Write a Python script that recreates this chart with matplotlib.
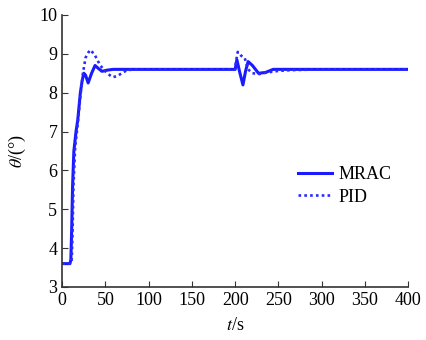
import numpy as np
import matplotlib
matplotlib.use("Agg")
from matplotlib import pyplot as plt

plt.rcParams['font.family'] = ['Liberation Serif', 'DejaVu Serif']
plt.rcParams['mathtext.fontset'] = 'stix'

# MRAC response (time s, angle deg)
mrac_t = [0, 9, 10, 11, 12, 13.5, 16, 18, 21, 23, 25, 27, 30, 34, 38, 42, 46, 52, 59, 70,
          200, 202, 205, 209, 212, 215, 220, 227, 235, 244, 255, 400]
mrac_y = [3.6, 3.6, 3.7, 4.5, 5.6, 6.5, 7.0, 7.3, 8.0, 8.3, 8.5, 8.45, 8.25, 8.5, 8.7, 8.62, 8.55, 8.58, 8.6, 8.6,
          8.6, 8.85, 8.55, 8.2, 8.55, 8.8, 8.7, 8.5, 8.52, 8.6, 8.6, 8.6]

# PID response
pid_t = [0, 10, 11, 12, 13, 15, 18, 21, 24, 27, 32, 37, 44, 52, 58, 63, 69, 75, 85,
         200, 201, 203, 207, 211, 215, 220, 228, 237, 250, 265, 300, 400]
pid_y = [3.6, 3.6, 3.7, 4.4, 5.6, 6.6, 7.2, 7.9, 8.5, 8.9, 9.1, 9.0, 8.7, 8.5, 8.4, 8.42, 8.5, 8.58, 8.6,
         8.6, 8.8, 9.05, 8.95, 8.9, 8.6, 8.5, 8.48, 8.52, 8.56, 8.58, 8.6, 8.6]

xticks = [0, 50, 100, 150, 200, 250, 300, 350, 400]
yticks = [3, 4, 5, 6, 7, 8, 9, 10]

fig = plt.figure(figsize=(4.26, 3.40), dpi=100)
ax = fig.add_axes([0.146, 0.156, 0.812, 0.80])

ax.plot(mrac_t, mrac_y, '-', color='#1a1aff', lw=2.2, label='MRAC')
ax.plot(pid_t, pid_y, linestyle=(0, (1, 1.2)), color='#2a2aff', lw=1.9, label='PID')

ax.set_xlim(0, 400)
ax.set_ylim(3, 10)
ax.set_xticks(xticks)
ax.set_yticks(yticks)
ax.tick_params(direction='in', length=4, labelsize=13, color='#333333')
ax.spines['top'].set_visible(False)
ax.spines['right'].set_visible(False)
for s in ['left', 'bottom']:
    ax.spines[s].set_color('#333333')
    ax.spines[s].set_linewidth(1.2)

ax.set_xlabel(r'$t$/s', fontsize=13, labelpad=6)
ax.set_ylabel(r'$\theta$/(°)', fontsize=13, labelpad=8)

ax.legend(loc='center left', bbox_to_anchor=(0.662, 0.371), frameon=False, fontsize=13,
          handlelength=1.85, handletextpad=0.35, labelspacing=0.3, borderaxespad=0)

fig.savefig('out.png', dpi=100)
